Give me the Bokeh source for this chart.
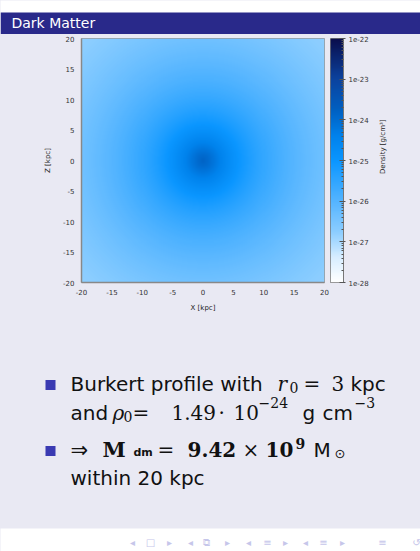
import numpy as np
from bokeh.plotting import figure
from bokeh.layouts import column, row
from bokeh.models import Range1d, FixedTicker, LogColorMapper, PrintfTickFormatter
from bokeh.core.properties import value
from bokeh.embed import file_html
from bokeh.resources import INLINE

# ---- data ----
title_text = "Dark Matter"
r0_kpc = 3.0                 # Burkert core radius
rho0 = 1.49e-24              # central density g/cm^3
extent_kpc = 20.0
x_ticks = [-20, -15, -10, -5, 0, 5, 10, 15, 20]
z_ticks = [-20, -15, -10, -5, 0, 5, 10, 15, 20]
cbar_ticks = [1e-28, 1e-27, 1e-26, 1e-25, 1e-24, 1e-23, 1e-22]
dens_low, dens_high = 1e-28, 1e-22

BG = "#e9e9f3"
BAR = "#29298a"
BULLET = "#3a3ab2"
NAV = "#c6c6ea"
SANS = "DejaVu Sans"
SERIF = "DejaVu Serif"
TY = -7   # baseline correction for svg text

# palette: white -> light blue -> bright blue -> navy
anchors = [(0.0, "#ffffff"), (0.1, "#d8eeff"), (0.2, "#8fcfff"), (0.33, "#55b5ff"),
           (0.5, "#0a96ff"), (0.6, "#0082ec"), (0.7, "#0062c4"), (0.83, "#0b44a0"),
           (1.0, "#0a0e4c")]
def hex2rgb(h):
    return np.array([int(h[i:i + 2], 16) for i in (1, 3, 5)], dtype=float)
pos = np.array([a[0] for a in anchors])
cols = np.array([hex2rgb(a[1]) for a in anchors])
palette = []
for t in np.linspace(0, 1, 256):
    c = [np.interp(t, pos, cols[:, k]) for k in range(3)]
    palette.append("#%02x%02x%02x" % tuple(int(round(v)) for v in c))
mapper = LogColorMapper(palette=palette, low=dens_low, high=dens_high)

# ---- density slice of the Burkert profile ----
n = 241
g = np.linspace(-extent_kpc, extent_kpc, n)
X, Z = np.meshgrid(g, g)
s = np.sqrt(X ** 2 + Z ** 2) / r0_kpc
rho = rho0 / ((1 + s) * (1 + s ** 2))

# ---- title bar ----
top = figure(width=420, height=34, x_range=Range1d(0, 420), y_range=Range1d(34, 0),
             output_backend="svg", toolbar_location=None, min_border=0,
             background_fill_color="white", border_fill_color="white", outline_line_color=None)
top.axis.visible = False
top.grid.visible = False
top.quad(left=0, right=420, top=12, bottom=36, fill_color=BAR, line_color=None)
top.text(x=[11], y=[29 + TY], text=[title_text], text_font=value(SANS), text_font_size="14px",
         text_color="white", text_baseline="alphabetic")

# ---- heat map ----
hm = figure(width=330, height=284, x_range=Range1d(-20, 20), y_range=Range1d(-20, 20),
            output_backend="svg", toolbar_location=None,
            min_border_left=81, min_border_right=6, min_border_top=4, min_border_bottom=36,
            background_fill_color=BG, border_fill_color=BG, outline_line_color="#999999")
hm.grid.visible = False
hm.image(image=[rho], x=-20, y=-20, dw=40, dh=40, color_mapper=mapper)
hm.xaxis.ticker = FixedTicker(ticks=x_ticks)
hm.yaxis.ticker = FixedTicker(ticks=z_ticks)
hm.xaxis.axis_label = "X [kpc]"
hm.yaxis.axis_label = "Z [kpc]"
for ax in (hm.xaxis[0], hm.yaxis[0]):
    ax.formatter = PrintfTickFormatter(format="%d")
    ax.axis_line_color = "#888888"
    ax.axis_line_width = 1.5
    ax.major_tick_out = 0
    ax.major_tick_in = 0
    ax.minor_tick_out = 0
    ax.minor_tick_in = 0
    ax.major_label_text_font = SANS
    ax.major_label_text_font_size = "7px"
    ax.major_label_text_color = "#333333"
    ax.axis_label_text_font = SANS
    ax.axis_label_text_font_size = "7px"
    ax.axis_label_text_font_style = "normal"
    ax.axis_label_text_color = "#222222"
hm.xaxis.major_label_standoff = 6
hm.xaxis.axis_label_standoff = 6
hm.yaxis.major_label_standoff = 7
hm.yaxis.axis_label_standoff = 8

# ---- colour bar ----
cb = figure(width=45, height=284, x_range=Range1d(0, 1), y_range=Range1d(dens_low, dens_high),
            y_axis_type="log", y_axis_location="right",
            output_backend="svg", toolbar_location=None,
            min_border_left=0, min_border_right=32, min_border_top=4, min_border_bottom=36,
            background_fill_color=BG, border_fill_color=BG, outline_line_color="#777777")
cb.grid.visible = False
cb.xaxis.visible = False
levels = 10 ** np.linspace(np.log10(dens_low), np.log10(dens_high), 256)
cb.image(image=[levels.reshape(256, 1)], x=0, y=dens_low, dw=1, dh=dens_high - dens_low,
         color_mapper=mapper)
minor = [m * 10.0 ** e for e in range(-28, -22) for m in range(2, 10)]
cax = cb.yaxis[0]
cax.ticker = FixedTicker(ticks=cbar_ticks, minor_ticks=minor)
cax.formatter = PrintfTickFormatter(format="%.0e")
cax.axis_line_color = "#777777"
cax.major_tick_in = 4
cax.major_tick_out = 2
cax.minor_tick_in = 2
cax.minor_tick_out = 0
cax.major_tick_line_color = "#555555"
cax.minor_tick_line_color = "#555555"
cax.major_label_text_font = SANS
cax.major_label_text_font_size = "7px"
cax.major_label_text_color = "#333333"
cax.major_label_standoff = 3

# ---- colour-bar title (rotated) ----
lf = figure(width=45, height=284, x_range=Range1d(375, 420), y_range=Range1d(0, 284),
            output_backend="svg", toolbar_location=None, min_border=0,
            background_fill_color=BG, border_fill_color=BG, outline_line_color=None)
lf.axis.visible = False
lf.grid.visible = False
lf.text(x=[382], y=[158], text=["Density [g/cm\u00b3]"], angle=np.pi / 2,
        text_font=value(SANS), text_font_size="7px", text_color="#222222",
        text_align="center", text_baseline="middle")

# ---- bullet text ----
bt = figure(width=420, height=233, x_range=Range1d(0, 420), y_range=Range1d(551, 318),
            output_backend="svg", toolbar_location=None, min_border=0,
            background_fill_color=BG, border_fill_color=BG, outline_line_color=None)
bt.axis.visible = False
bt.grid.visible = False
bt.quad(left=-5, right=425, top=528, bottom=560, fill_color="white", line_color=None)
bt.scatter(x=[50, 50], y=[384.5, 450.5], marker="square", size=10,
           fill_color=BULLET, line_color=None)

def seg(x, y, t, font=SANS, size=20, style="normal"):
    bt.text(x=[x], y=[y + TY], text=[t], text_font=value(font), text_font_size=f"{size}px",
            text_font_style=style, text_color="#111111", text_baseline="alphabetic",
            text_align="left")

# line 1
seg(70, 390, "Burkert profile with")
seg(277, 390, "r", SERIF, 20, "italic")
seg(289, 394, "0", SERIF, 14)
seg(303, 390, "=", SERIF)
seg(331, 390, "3", SERIF)
seg(350, 390, "kpc")
# line 2
seg(70, 419, "and")
seg(112, 419, "\u03c1", SERIF, 20, "italic")
seg(123, 423, "0", SERIF, 14)
seg(132, 419, "=", SERIF)
seg(171, 419, "1.49", SERIF)
seg(218, 419, "\u00b7", SERIF)
seg(233, 419, "10", SERIF)
seg(258, 409, "\u221224", SERIF, 14)
seg(302, 419, "g")
seg(322, 419, "cm")
seg(354, 409, "\u22123", SERIF, 14)
# line 3
seg(70, 456, "\u21d2", SANS, 21)
seg(102, 456, "M", SERIF, 21, "bold")
seg(133, 459, "dm", SANS, 11, "bold")
seg(157, 456, "=", SERIF)
seg(187, 456, "9.42", SERIF, 20, "bold")
seg(242, 456, "\u00d7", SERIF)
seg(265, 456, "10", SERIF, 20, "bold")
seg(295, 450, "9", SERIF, 14, "bold")
seg(313, 456, "M")
seg(334, 460, "\u2299", SANS, 13)
# line 4
seg(70, 484, "within 20 kpc")

# navigation symbols
nav_x = [132, 150, 169, 190, 206, 227, 248, 267, 285, 305, 323, 342, 382, 416]
nav_t = ["\u25c2", "\u25a1", "\u25b8", "\u25c2", "\u29c9", "\u25b8", "\u25c2", "\u2261",
         "\u25b8", "\u25c2", "\u2261", "\u25b8", "\u2261", "\u21ba"]
bt.text(x=nav_x, y=[542] * len(nav_x), text=nav_t, text_font=value(SANS),
        text_font_size="10px", text_color=NAV, text_align="center", text_baseline="middle")

layout = column(top, row(hm, cb, lf, spacing=0, styles={"background-color": BG}), bt,
                spacing=0, styles={"background-color": BG})
open("out.html", "w").write(file_html(layout, INLINE))
